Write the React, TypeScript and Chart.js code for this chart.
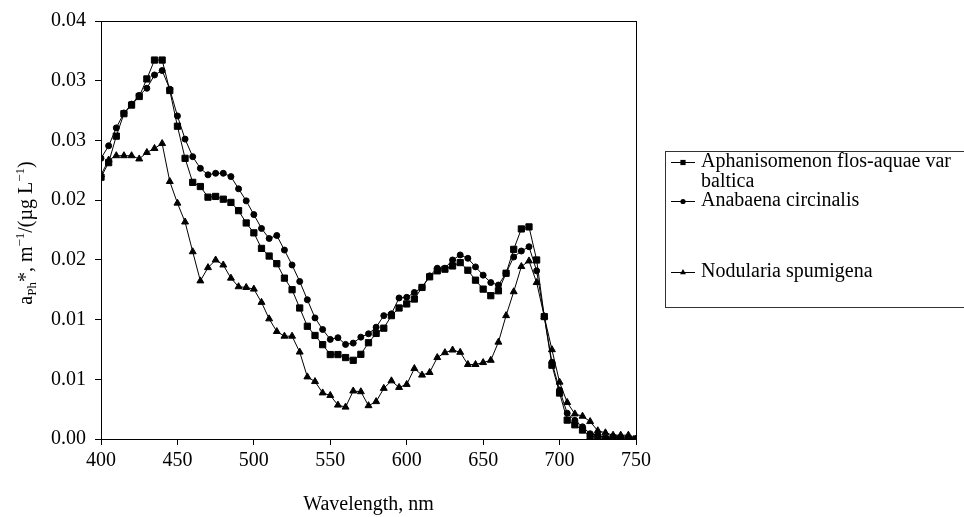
import { useEffect, useRef } from 'react';
import { Chart, registerables } from 'chart.js';

Chart.register(...registerables);

const wavelengths = [
  400, 405, 410, 415, 420, 425, 430, 435, 440, 445,
  450, 455, 460, 465, 470, 475, 480, 485, 490, 495,
  500, 505, 510, 515, 520, 525, 530, 535, 540, 545,
  550, 555, 560, 565, 570, 575, 580, 585, 590, 595,
  600, 605, 610, 615, 620, 625, 630, 635, 640, 645,
  650, 655, 660, 665, 670, 675, 680, 685, 690, 695,
  700, 705, 710, 715, 720, 725, 730, 735, 740, 745,
  750,
];

const aphanizomenon = [
  0.02192, 0.02314, 0.02536, 0.02724, 0.02796, 0.02868, 0.03015, 0.03173, 0.03173, 0.02918,
  0.02619, 0.02350, 0.02149, 0.02114, 0.02025, 0.02031, 0.02008, 0.01981, 0.01912, 0.01809,
  0.01726, 0.01596, 0.01532, 0.01468, 0.01347, 0.01250, 0.01097, 0.00944, 0.00867, 0.00790,
  0.00707, 0.00707, 0.00682, 0.00659, 0.00709, 0.00806, 0.00884, 0.00928, 0.01033, 0.01097,
  0.01131, 0.01172, 0.01269, 0.01358, 0.01408, 0.01422, 0.01449, 0.01477, 0.01413, 0.01330,
  0.01255, 0.01200, 0.01241, 0.01388, 0.01588, 0.01759, 0.01776, 0.01499, 0.01025, 0.00618,
  0.00385, 0.00158, 0.00119, 0.00075, 0.00022, 0.00015, 0.00000, 0.00008, 0.00002, 0.00000,
  0.00000,
];

const anabaena = [
  0.02350, 0.02455, 0.02605, 0.02730, 0.02804, 0.02877, 0.02937, 0.03048, 0.03085, 0.02929,
  0.02705, 0.02511, 0.02364, 0.02266, 0.02212, 0.02225, 0.02225, 0.02197, 0.02095, 0.01994,
  0.01879, 0.01763, 0.01679, 0.01704, 0.01582, 0.01457, 0.01319, 0.01166, 0.01014, 0.00917,
  0.00834, 0.00848, 0.00792, 0.00803, 0.00853, 0.00881, 0.00936, 0.01033, 0.01048, 0.01181,
  0.01186, 0.01227, 0.01269, 0.01366, 0.01430, 0.01430, 0.01499, 0.01541, 0.01513, 0.01441,
  0.01372, 0.01310, 0.01289, 0.01388, 0.01524, 0.01574, 0.01610, 0.01408, 0.01025, 0.00643,
  0.00410, 0.00216, 0.00156, 0.00102, 0.00044, 0.00032, 0.00008, 0.00011, 0.00011, 0.00007,
  0.00000,
];

const nodularia = [
  0.02212, 0.02336, 0.02372, 0.02372, 0.02372, 0.02345, 0.02399, 0.02433, 0.02474, 0.02156,
  0.01975, 0.01817, 0.01568, 0.01324, 0.01435, 0.01499, 0.01457, 0.01347, 0.01275, 0.01269,
  0.01255, 0.01144, 0.01006, 0.00900, 0.00861, 0.00861, 0.00728, 0.00520, 0.00481, 0.00386,
  0.00365, 0.00284, 0.00267, 0.00402, 0.00396, 0.00279, 0.00313, 0.00424, 0.00487, 0.00432,
  0.00457, 0.00590, 0.00535, 0.00557, 0.00682, 0.00723, 0.00745, 0.00726, 0.00624, 0.00624,
  0.00640, 0.00659, 0.00811, 0.01033, 0.01233, 0.01444, 0.01491, 0.01310, 0.01025, 0.00748,
  0.00476, 0.00306, 0.00210, 0.00191, 0.00146, 0.00069, 0.00052, 0.00032, 0.00032, 0.00032,
  0.00000,
];

const seriesNames = ['Aphanisomenon flos-aquae var baltica', 'Anabaena circinalis', 'Nodularia spumigena'];
const seriesMarkers = ['rect', 'circle', 'triangle'];
const xTickLabels = ['400', '450', '500', '550', '600', '650', '700', '750'];
const yTickLabels = ['0.00', '0.01', '0.01', '0.02', '0.02', '0.03', '0.03', '0.04'];
const xTitle = 'Wavelength, nm';
const yTitleParts = [
  { t: 'a', kind: 'n' },
  { t: 'Ph', kind: 'sub' },
  { t: '*, m', kind: 'n' },
  { t: '\u22121', kind: 'sup' },
  { t: '/(\u00b5g L', kind: 'n' },
  { t: '\u22121', kind: 'sup' },
  { t: ')', kind: 'n' },
];

const FONT = '"Liberation Serif", "Times New Roman", serif';

function drawMarker(ctx: CanvasRenderingContext2D, kind: string, x: number, y: number, s: number) {
  ctx.beginPath();
  if (kind === 'rect') {
    ctx.rect(x - s, y - s, 2 * s, 2 * s);
  } else if (kind === 'circle') {
    ctx.arc(x, y, s, 0, Math.PI * 2);
  } else {
    const r = s * 1.3;
    ctx.moveTo(x, y - r);
    ctx.lineTo(x + r * 0.866, y + r * 0.5);
    ctx.lineTo(x - r * 0.866, y + r * 0.5);
    ctx.closePath();
  }
  ctx.fill();
}

function wrapText(ctx: CanvasRenderingContext2D, text: string, maxW: number): string[] {
  const words = text.split(' ');
  const lines: string[] = [];
  let cur = '';
  for (const w of words) {
    const trial = cur ? cur + ' ' + w : w;
    if (ctx.measureText(trial).width > maxW && cur) {
      lines.push(cur);
      cur = w;
    } else {
      cur = trial;
    }
  }
  if (cur) lines.push(cur);
  return lines;
}

const decorPlugin = {
  id: 'decor',
  beforeDatasetsDraw(chart: any) {
    const { ctx, chartArea: a } = chart;
    ctx.save();
    ctx.strokeStyle = '#000';
    ctx.lineWidth = 1;
    ctx.strokeRect(Math.round(a.left) + 0.5, Math.round(a.top) + 0.5, Math.round(a.right - a.left), Math.round(a.bottom - a.top));
    ctx.restore();
  },
  afterDraw(chart: any) {
    const { ctx, chartArea: a } = chart;
    ctx.save();
    ctx.fillStyle = '#000';
    ctx.strokeStyle = '#000';

    // X title
    ctx.font = `20px ${FONT}`;
    ctx.textAlign = 'center';
    ctx.textBaseline = 'middle';
    ctx.fillText(xTitle, (a.left + a.right) / 2, 505);

    // Y title with sub/superscripts
    const big = `20px ${FONT}`;
    const small = `13px ${FONT}`;
    let total = 0;
    const widths = yTitleParts.map((p) => {
      ctx.font = p.kind === 'n' ? big : small;
      const w = ctx.measureText(p.t).width;
      total += w;
      return w;
    });
    ctx.translate(32, 233);
    ctx.rotate(-Math.PI / 2);
    ctx.textAlign = 'left';
    ctx.textBaseline = 'alphabetic';
    let x = -total / 2;
    yTitleParts.forEach((p, i) => {
      ctx.font = p.kind === 'n' ? big : small;
      const dy = p.kind === 'sub' ? 4 : p.kind === 'sup' ? -8 : 0;
      ctx.fillText(p.t, x, dy);
      x += widths[i];
    });
    ctx.setTransform(1, 0, 0, 1, 0, 0);

    // Legend
    const boxL = 665.5, boxT = 151.5, boxB = 307.5;
    ctx.lineWidth = 1;
    ctx.strokeStyle = '#333';
    ctx.strokeRect(boxL, boxT, 400, boxB - boxT);
    ctx.font = `20px ${FONT}`;
    ctx.textAlign = 'left';
    ctx.textBaseline = 'middle';
    const entryY = [162, 201, 272];
    seriesNames.forEach((name, i) => {
      const y = entryY[i];
      ctx.strokeStyle = '#000';
      ctx.beginPath();
      ctx.moveTo(671, y + 0.5);
      ctx.lineTo(695, y + 0.5);
      ctx.stroke();
      drawMarker(ctx, seriesMarkers[i], 683, y + 0.5, 2.6);
      const lines = wrapText(ctx, name, 262);
      lines.forEach((ln, k) => {
        ctx.fillText(ln, 701, y + k * 20);
      });
    });
    ctx.restore();
  },
};

export default function App() {
  const ref = useRef<HTMLCanvasElement>(null);
  useEffect(() => {
    if (!ref.current) return;
    const mk = (vals: number[]) => wavelengths.map((w, i) => ({ x: w, y: vals[i] }));
    const common = {
      borderColor: '#000',
      backgroundColor: '#000',
      borderWidth: 1,
      pointBackgroundColor: '#000',
      pointBorderColor: '#000',
      pointBorderWidth: 1,
      tension: 0,
      fill: false,
    };
    const chart = new Chart(ref.current, {
      type: 'line',
      data: {
        datasets: [
          { ...common, label: seriesNames[2], data: mk(nodularia), pointStyle: 'triangle', pointRadius: 4 },
          { ...common, label: seriesNames[1], data: mk(anabaena), pointStyle: 'circle', pointRadius: 3 },
          { ...common, label: seriesNames[0], data: mk(aphanizomenon), pointStyle: 'rect', pointRadius: 4.4 },
        ],
      },
      options: {
        responsive: false,
        devicePixelRatio: 1,
        animation: false,
        events: [],
        layout: { padding: { left: 0, right: 328, top: 18, bottom: 0 } },
        plugins: { legend: { display: false }, tooltip: { enabled: false } },
        scales: {
          x: {
            type: 'linear',
            min: 400,
            max: 750,
            afterFit: (s: any) => { s.height = 78; },
            border: { display: false },
            grid: { drawOnChartArea: false, drawTicks: true, tickLength: 6, color: '#000' },
            ticks: {
              stepSize: 50,
              autoSkip: false,
              maxRotation: 0,
              padding: 4,
              color: '#000',
              font: { family: FONT, size: 20 },
              callback: (_v: any, i: number) => xTickLabels[i],
            },
          },
          y: {
            type: 'linear',
            min: 0,
            max: 0.035,
            afterFit: (s: any) => { s.width = 101; },
            border: { display: false },
            grid: { drawOnChartArea: false, drawTicks: true, tickLength: 6, color: '#000' },
            ticks: {
              stepSize: 0.005,
              autoSkip: false,
              padding: 9,
              color: '#000',
              font: { family: FONT, size: 20 },
              callback: (_v: any, i: number) => yTickLabels[i],
            },
          },
        },
      },
      plugins: [decorPlugin],
    });
    return () => chart.destroy();
  }, []);
  return (
    <div style={{ position: 'absolute', left: 0, top: 0, width: 964, height: 517, background: '#fff' }}>
      <canvas ref={ref} width={964} height={517} style={{ display: 'block' }} />
    </div>
  );
}
